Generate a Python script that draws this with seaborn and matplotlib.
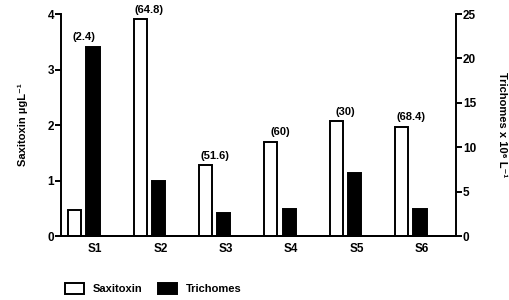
import numpy as np
import pandas as pd
import matplotlib
matplotlib.use("Agg")
import matplotlib.pyplot as plt
from matplotlib.patches import Patch
import seaborn as sns

sites = ["S1", "S2", "S3", "S4", "S5", "S6"]
saxitoxin = [0.46, 3.91, 1.28, 1.70, 2.07, 1.97]      # µg/L (left axis)
trichomes = [21.3, 6.2, 2.6, 3.0, 7.1, 3.0]           # x10^6 /L (right axis)
pct_labels = ["(2.4)", "(64.8)", "(51.6)", "(60)", "(30)", "(68.4)"]

sns.set_style("ticks")
plt.rcParams["font.family"] = ["Liberation Sans", "DejaVu Sans"]
plt.rcParams["font.weight"] = "bold"
for k in ("text.color", "axes.labelcolor", "xtick.color", "ytick.color", "axes.edgecolor"):
    plt.rcParams[k] = "black"

pos = np.arange(len(sites))
df_sax = pd.DataFrame({"x": pos - 0.31, "y": saxitoxin})
df_tri = pd.DataFrame({"x": pos - 0.03, "y": trichomes})

fig = plt.figure(figsize=(5.1, 3.0), dpi=100)
ax = fig.add_axes([0.1196, 0.2133, 0.7744, 0.74])
ax2 = ax.twinx()

sns.barplot(data=df_sax, x="x", y="y", native_scale=True, width=0.2,
            color="white", edgecolor="black", linewidth=1.4, ax=ax)
sns.barplot(data=df_tri, x="x", y="y", native_scale=True, width=0.2,
            color="black", edgecolor="black", linewidth=1.4, ax=ax2)

ax.set_xlim(-0.52, 5.52)
ax.set_ylim(0, 4)
ax2.set_ylim(0, 25)
ax.set_yticks([0, 1, 2, 3, 4])
ax2.set_yticks([0, 5, 10, 15, 20, 25])
ax.set_xticks(pos)
ax.set_xticklabels(sites, fontsize=8.5, fontweight="bold")
ax.tick_params(axis="x", length=0, pad=5)
ax.tick_params(axis="y", labelsize=8.5, width=1.4, length=4, pad=1)
ax2.tick_params(axis="y", labelsize=8.5, width=1.4, length=4, pad=1)
for t in ax.get_yticklabels() + ax2.get_yticklabels():
    t.set_fontweight("bold")

for a in (ax, ax2):
    a.spines["top"].set_visible(False)
    for s in ("left", "right", "bottom"):
        a.spines[s].set_linewidth(1.4)
ax.spines["right"].set_visible(False)
ax2.spines["left"].set_visible(False)

ax.set_xlabel("")
ax.set_ylabel("Saxitoxin µgL⁻¹", fontsize=8, fontweight="bold", labelpad=14)
ax2.set_ylabel("Trichomes x 10⁶ L⁻¹", fontsize=8,
               fontweight="bold", rotation=-90, labelpad=22)

scale = 4 / 25
for i, lab in enumerate(pct_labels):
    top = max(saxitoxin[i], trichomes[i] * scale)
    ax.text(pos[i] - 0.17, top + 0.08, lab, ha="center", va="bottom",
            fontsize=8, fontweight="bold")

handles = [Patch(facecolor="white", edgecolor="black", linewidth=1.4, label="Saxitoxin"),
           Patch(facecolor="black", edgecolor="black", linewidth=1.4, label="Trichomes")]
fig.legend(handles=handles, loc="lower left", bbox_to_anchor=(0.108, -0.015), ncol=2,
           frameon=False, fontsize=8, handlelength=1.7, handleheight=1.2,
           columnspacing=1.4, handletextpad=0.8)

fig.savefig("out.png", dpi=100)
